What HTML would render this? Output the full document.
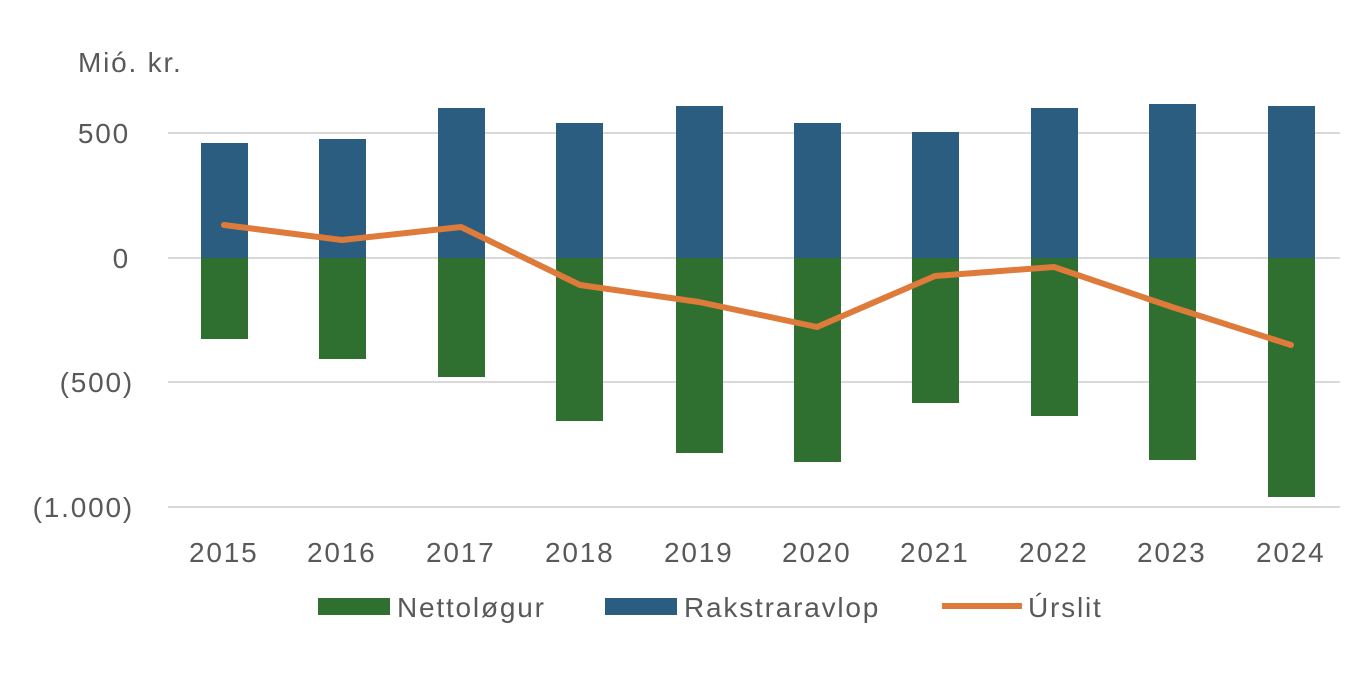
<!DOCTYPE html>
<html><head><meta charset="utf-8"><style>
html,body{margin:0;padding:0;background:#fff;}
svg{display:block;}
text{font-family:"Liberation Sans",sans-serif;fill:#595959;font-size:28px;letter-spacing:1.8px;}
</style></head><body>
<svg width="1360" height="696" viewBox="0 0 1360 696" xmlns="http://www.w3.org/2000/svg">
<rect width="1360" height="696" fill="#fff"/>
<text x="78" y="72">Mió. kr.</text>
<g stroke="#d9d9d9" stroke-width="2">
<line x1="168" y1="133" x2="1340" y2="133"/>
<line x1="168" y1="258" x2="1340" y2="258"/>
<line x1="168" y1="382" x2="1340" y2="382"/>
<line x1="168" y1="507" x2="1340" y2="507"/>
</g>
<g text-anchor="end">
<text x="130" y="143">500</text>
<text x="130" y="268">0</text>
<text x="134" y="392">(500)</text>
<text x="134" y="517">(1.000)</text>
</g>
<g fill="#2a5d80">
<rect x="201" y="143" width="47" height="115"/>
<rect x="319" y="139" width="47" height="119"/>
<rect x="438" y="108" width="47" height="150"/>
<rect x="556" y="123" width="47" height="135"/>
<rect x="676" y="106" width="47" height="152"/>
<rect x="794" y="123" width="47" height="135"/>
<rect x="912" y="132" width="47" height="126"/>
<rect x="1031" y="108" width="47" height="150"/>
<rect x="1149" y="104" width="47" height="154"/>
<rect x="1268" y="106" width="47" height="152"/>
</g>
<g fill="#2f6f2f">
<rect x="201" y="258" width="47" height="81"/>
<rect x="319" y="258" width="47" height="101"/>
<rect x="438" y="258" width="47" height="119"/>
<rect x="556" y="258" width="47" height="163"/>
<rect x="676" y="258" width="47" height="195"/>
<rect x="794" y="258" width="47" height="204"/>
<rect x="912" y="258" width="47" height="145"/>
<rect x="1031" y="258" width="47" height="158"/>
<rect x="1149" y="258" width="47" height="202"/>
<rect x="1268" y="258" width="47" height="239"/>
</g>
<polyline fill="none" stroke="#de7a3a" stroke-width="6" stroke-linejoin="round" stroke-linecap="round"
points="224,225 342,240 461,227 580,285 699,302 817,327 935,276 1054,267 1172,307 1291,345"/>
<g>
<text x="189" y="562">2015</text>
<text x="307" y="562">2016</text>
<text x="426" y="562">2017</text>
<text x="545" y="562">2018</text>
<text x="664" y="562">2019</text>
<text x="782" y="562">2020</text>
<text x="900" y="562">2021</text>
<text x="1019" y="562">2022</text>
<text x="1137" y="562">2023</text>
<text x="1256" y="562">2024</text>
</g>
<rect x="318" y="598" width="72" height="17" fill="#2f6f2f"/>
<text x="397" y="617">Nettoløgur</text>
<rect x="605" y="598" width="72" height="17" fill="#2a5d80"/>
<text x="684" y="617">Rakstraravlop</text>
<line x1="942" y1="606" x2="1022" y2="606" stroke="#de7a3a" stroke-width="6"/>
<text x="1028" y="617">Úrslit</text>
</svg>
</body></html>
